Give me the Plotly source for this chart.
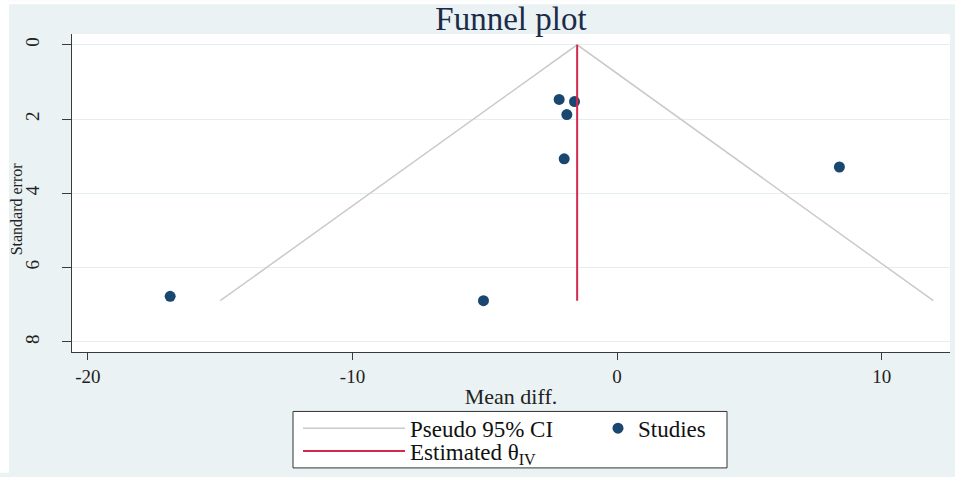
import plotly.graph_objects as go

# ---- data ----
study_md = [-16.89, -5.05, 8.40, -2.19, -1.61, -1.90, -2.00]
study_se = [6.77, 6.89, 3.29, 1.47, 1.53, 1.88, 3.07]

theta_iv = -1.51
est_se = [0, 6.89]

ci_md = [-15.0, -1.51, 11.95]
ci_se = [6.89, 0, 6.89]

xticks = [-20, -10, 0, 10]
yticks = [0, 2, 4, 6, 8]

FONT = "Liberation Serif, Times New Roman, serif"
BG = "#eaf2f3"
NAVY = "#1a476f"
RED = "#d3284e"

# plot area geometry (pixels)
W, H = 955, 477
L, R, T, B = 72, 5, 34, 122
PW, PH = W - L - R, H - T - B


def px(x):
    return (x - L) / PW


def py(y):
    return (H - B - y) / PH


fig = go.Figure()
fig.add_trace(go.Scatter(
    x=ci_md, y=ci_se, mode="lines", name="Pseudo 95% CI",
    line=dict(color="#cacaca", width=1.5), legend="legend"))
fig.add_trace(go.Scatter(
    x=study_md, y=study_se, mode="markers", name="Studies",
    marker=dict(color=NAVY, size=11), legend="legend2"))
fig.add_trace(go.Scatter(
    x=[theta_iv, theta_iv], y=est_se, mode="lines",
    name="Estimated θ<sub>IV</sub>",
    line=dict(color=RED, width=2), legend="legend3"))

leg_common = dict(
    orientation="h", bgcolor="rgba(0,0,0,0)", borderwidth=0,
    font=dict(family=FONT, size=23, color="#111"),
    xanchor="left", yanchor="middle", visible=True)

fig.update_layout(
    width=W, height=H,
    margin=dict(l=L, r=R, t=T, b=B),
    paper_bgcolor=BG, plot_bgcolor="white",
    showlegend=True,
    font=dict(family=FONT, color="#222"),
    title=dict(text="Funnel plot", x=0.5, xref="paper",
               y=1 - 18 / H, yref="container", yanchor="middle",
               font=dict(family=FONT, size=33, color="#1c2b4a")),
    xaxis=dict(range=[-20.6, 12.58], tickvals=xticks,
               ticktext=[str(v) for v in xticks],
               showgrid=False, zeroline=False,
               showline=True, linecolor="#3a3a3a", linewidth=1,
               ticks="outside", ticklen=7, tickcolor="#3a3a3a",
               tickfont=dict(family=FONT, size=19, color="#222"),
               title=dict(text="Mean diff.", standoff=2,
                          font=dict(family=FONT, size=22, color="#222"))),
    yaxis=dict(range=[8.27, -0.29], tickvals=yticks,
               showgrid=True, gridcolor="#e4eef0", gridwidth=1,
               zeroline=False, tickangle=-90, ticklabelstandoff=15,
               showline=True, linecolor="#3a3a3a", linewidth=1,
               ticks="outside", ticklen=9, tickcolor="#3a3a3a",
               tickfont=dict(family=FONT, size=19, color="#222")),
    annotations=[
        dict(text="Standard error", xref="paper", yref="paper",
             x=px(16), y=py(210), xanchor="center", yanchor="middle",
             textangle=-90, showarrow=False,
             font=dict(family=FONT, size=16, color="#222")),
    ],
    legend=dict(x=px(298), y=py(432), itemwidth=102, **leg_common),
    legend2=dict(x=px(598), y=py(432), itemwidth=30, **leg_common),
    legend3=dict(x=px(298), y=py(455), itemwidth=102, **leg_common),
    shapes=[
        dict(type="rect", xref="paper", yref="paper",
             x0=px(293), x1=px(727), y0=py(415), y1=py(472),
             line=dict(color="#333", width=1), fillcolor="white",
             layer="below"),
        dict(type="rect", xref="paper", yref="paper",
             x0=px(0), x1=px(9), y0=py(477), y1=py(0),
             line=dict(width=0), fillcolor="white", layer="below"),
        dict(type="rect", xref="paper", yref="paper",
             x0=px(0), x1=px(955), y0=py(4), y1=py(0),
             line=dict(width=0), fillcolor="white", layer="below"),
    ],
)

fig.write_html("out.html", config={"displayModeBar": False},
               post_script="document.body.style.margin='0';")
